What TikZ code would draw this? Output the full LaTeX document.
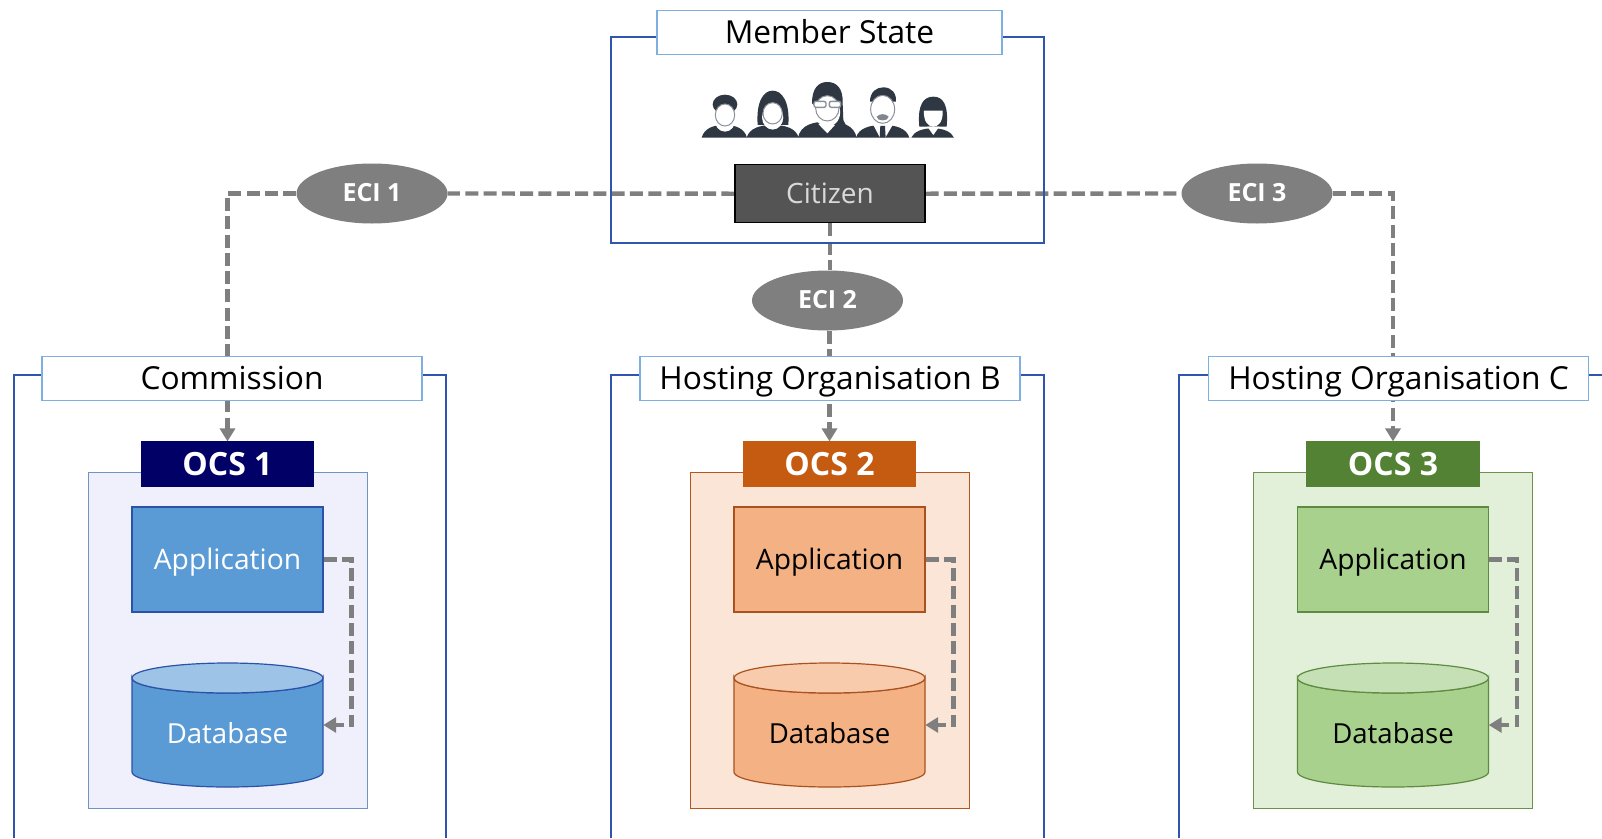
\documentclass[tikz,border=0pt]{standalone}
\usepackage{fontspec}
\setmainfont{Open Sans}
\usetikzlibrary{arrows.meta,shapes.geometric,backgrounds}
\definecolor{frameblue}{HTML}{2F55B0}
\definecolor{titleblue}{HTML}{7DB0E0}
\definecolor{conn}{HTML}{7F7F7F}
\definecolor{dark}{HTML}{2E3742}
\definecolor{ocsA}{HTML}{000066}\definecolor{panelA}{HTML}{F0F0FC}\definecolor{plineA}{HTML}{6F93C4}
\definecolor{boxA}{HTML}{5B9BD5}\definecolor{topA}{HTML}{9DC3E6}\definecolor{lineA}{HTML}{2A52A8}
\definecolor{ocsB}{HTML}{C55A11}\definecolor{panelB}{HTML}{FBE5D6}\definecolor{plineB}{HTML}{B5561F}
\definecolor{boxB}{HTML}{F4B183}\definecolor{topB}{HTML}{F8CBAD}\definecolor{lineB}{HTML}{A9521F}
\definecolor{ocsC}{HTML}{548235}\definecolor{panelC}{HTML}{E2F0D9}\definecolor{plineC}{HTML}{6E9150}
\definecolor{boxC}{HTML}{A9D18E}\definecolor{topC}{HTML}{C5E0B4}\definecolor{lineC}{HTML}{5F8A42}
\tikzset{
  frameline/.style={draw=frameblue,line width=1.3pt},
  titlebox/.style={draw=titleblue,fill=white,line width=1.2pt,minimum width=380pt,minimum height=44pt,inner sep=0pt,text height=21pt,text depth=0pt,font=\fontsize{31.7}{32}\selectfont,text=black},
  ecinode/.style={ellipse,fill=conn,minimum width=151pt,minimum height=60pt,inner sep=0pt,text height=16.5pt,text depth=0pt,text=white,font=\fontsize{25}{25}\selectfont\bfseries},
  citizenbox/.style={draw=black,fill=black!67,minimum width=190pt,minimum height=58pt,inner sep=0pt,text height=19pt,text depth=0pt,text=white!85!black,line width=1.1pt,font=\fontsize{28}{28}\selectfont},
  ocsbox/.style={minimum width=172pt,minimum height=44pt,inner sep=0pt,text height=22pt,text depth=0pt,line width=1.2pt,text=white,font=\fontsize{32}{32}\selectfont\bfseries},
  panelbox/.style={minimum width=279pt,minimum height=336pt,inner sep=0pt,line width=1pt},
  appbox/.style={minimum width=191pt,minimum height=105pt,inner sep=0pt,text height=19pt,text depth=0pt,line width=1.2pt,font=\fontsize{28.2}{28}\selectfont},
  dbtext/.style={minimum width=191pt,minimum height=124pt,inner sep=0pt,text height=37pt,text depth=0pt,font=\fontsize{27.6}{28}\selectfont},
  dashconn/.style={draw=conn,line width=4.4pt,dash pattern=on 13pt off 5.3pt},
  arrowconn/.style={dashconn,-{Triangle[length=13pt,width=15pt]}},
  personfill/.style={fill=dark,draw=none},
  facefill/.style={fill=white,draw=dark!55,line width=1pt},
}
% #1 column letter, #2 centre x, #3 text colour, #4 OCS label
\newcommand{\ocscolumn}[4]{%
  \node[panelbox,draw=pline#1,fill=panel#1] (panel#1) at (#2,640) {};
  \node[ocsbox,draw=ocs#1,fill=ocs#1] (ocs#1) at (#2,464) {#4};
  \node[appbox,draw=line#1,fill=box#1,text=#3] (app#1) at (#2,559.5) {Application};
  \path[draw=line#1,fill=box#1,line width=1.2pt] (#2-95.5,678) -- (#2-95.5,772)
     arc[start angle=180,end angle=360,x radius=95.5pt,y radius=15pt]
     -- (#2+95.5,678) arc[start angle=360,end angle=180,x radius=95.5pt,y radius=15pt] -- cycle;
  \path[draw=line#1,fill=top#1,line width=1.2pt] (#2,678) ellipse[x radius=95.5pt,y radius=15pt];
  \node[dbtext,text=#3] (db#1) at (#2,725) {Database};
  \draw[arrowconn] (app#1.east) -- ++(28,0) |- (db#1.east);
}
\newcommand{\shoulders}[3]{% cx, half width, top
  \path[personfill] (#1-#2,203) .. controls (#1-#2+8,#3+10) and (#1-#2*0.5,#3) .. (#1,#3)
     .. controls (#1+#2*0.5,#3) and (#1+#2-8,#3+10) .. (#1+#2,203) -- cycle;
}
\newcommand{\face}[4]{% cx, cy, rx, ry
  \path[fill=white] (#1,#2+12) ellipse[x radius=#3*1.1,y radius=#4*1.15];
  \path[facefill] (#1,#2) ellipse[x radius=#3,y radius=#4];
}
\begin{document}
\begin{tikzpicture}[x=1pt,y=-1pt]
\useasboundingbox (0,0) rectangle (1602,838);
\begin{scope}[on background layer]
  \fill[white] (0,0) rectangle (1602,838);
\end{scope}
% nodes
\node[citizenbox] (citizen) at (830,193.7) {Citizen};
\node[ecinode] (eci1) at (372,193.5) {ECI 1};
\node[ecinode] (eci2) at (827.5,300.5) {ECI 2};
\node[ecinode] (eci3) at (1257,193.5) {ECI 3};
\ocscolumn{A}{227.5}{white}{OCS 1}
\ocscolumn{B}{829.5}{black}{OCS 2}
\ocscolumn{C}{1393}{black}{OCS 3}
\node[titlebox,minimum width=345pt] (tMember) at (829.5,32.5) {Member State};
\node[titlebox] (tA) at (232,378.5) {Commission};
\node[titlebox] (tB) at (830,378.5) {Hosting Organisation B};
\node[titlebox] (tC) at (1398.5,378.5) {Hosting Organisation C};
% connectors, then outer frames above them
\begin{scope}[on background layer]
  \draw[dashconn] (citizen.west) -- (eci1.east);
  \draw[arrowconn] (eci1.west) -| (ocsA.north);
  \draw[dashconn] (citizen.south) -- (citizen.south |- eci2.north);
  \draw[arrowconn] (ocsB.north |- eci2.south) -- (ocsB.north);
  \draw[dashconn] (citizen.east) -- (eci3.west);
  \draw[arrowconn] (eci3.east) -| (ocsC.north);
  \draw[frameline] (611,243) -- (611,37) -- (1044,37) -- (1044,243) -- cycle;
  \draw[frameline] (14,838) -- (14,375) -- (446,375) -- (446,838);
  \draw[frameline] (611,838) -- (611,375) -- (1044,375) -- (1044,838);
  \draw[frameline] (1179,838) -- (1179,375) -- (1602,375);
\end{scope}
% citizens icon
\begin{scope}[shift={(680,70)},x=0.3333pt,y=-0.3333pt]
  % 1
  \shoulders{133}{68}{165}
  \path[personfill] (135,103) ellipse[x radius=37,y radius=29];
  \face{135}{135}{29}{33}
  % 2
  \shoulders{278}{78}{165}
  \path[personfill] (233,165) .. controls (228,95) and (250,62) .. (278,62)
     .. controls (306,62) and (330,95) .. (325,165) -- cycle;
  \face{278}{130}{29}{32}
  % 3
  \shoulders{442}{88}{155}
  \path[personfill] (396,100) .. controls (396,55) and (415,36) .. (442,36)
     .. controls (470,36) and (490,55) .. (488,100) -- (490,150) -- (500,170) -- (470,160) -- cycle;
  \face{442}{115}{35}{38}
  \path[draw=dark!55,fill=white,line width=1.4pt,rounded corners=2pt] (402,94) rectangle (438,112) (448,94) rectangle (482,112);
  \path[fill=white] (415,162) -- (442,190) -- (465,165) -- cycle;
  % 4
  \shoulders{608}{80}{165}
  \path[personfill] (570,95) .. controls (570,65) and (590,52) .. (610,52)
     .. controls (635,52) and (650,70) .. (648,95) -- cycle;
  \face{608}{118}{36}{42}
  \path[fill=dark!60] (590,140) .. controls (600,130) and (616,130) .. (626,140) .. controls (626,155) and (590,155) .. (590,140) -- cycle;
  \path[fill=white] (580,165) -- (600,203) -- (616,203) -- (638,165) -- cycle;
  \path[personfill] (601,168) -- (615,168) -- (617,203) -- (599,203) -- cycle;
  % 5
  \shoulders{758}{64}{175}
  \path[personfill] (718,170) .. controls (712,105) and (730,80) .. (760,80)
     .. controls (790,80) and (806,105) .. (800,170) -- cycle;
  \path[fill=white] (732,122) -- (788,122) .. controls (790,155) and (775,170) .. (760,170)
     .. controls (745,170) and (730,155) .. (732,122) -- cycle;
  \path[fill=white] (742,170) -- (760,195) -- (778,170) -- cycle;
\end{scope}
\end{tikzpicture}
\end{document}
